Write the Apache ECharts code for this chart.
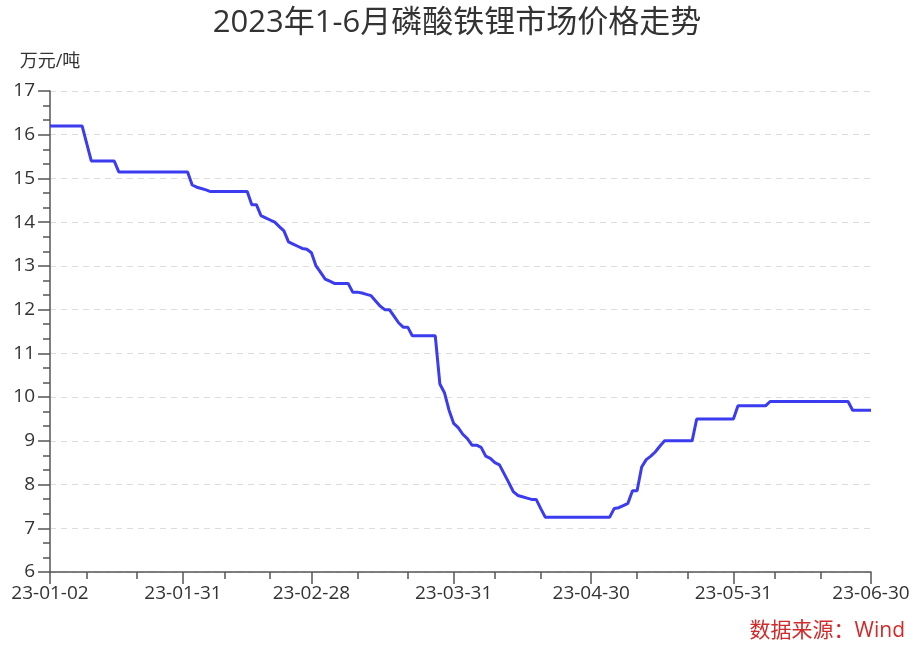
<!DOCTYPE html>
<html>
<head>
<meta charset="utf-8">
<script src="https://cdn.jsdelivr.net/npm/echarts@6/dist/echarts.min.js"></script>
<style>
html,body{margin:0;padding:0;background:#fff;}
#chart{width:914px;height:646px;}
</style>
</head>
<body>
<div id="chart"></div>
<script>
// Daily series, one value per calendar day from 2023-01-02 to 2023-06-30 (万元/吨)
var startDate = '2023-01-02';
var dayCount = 180;
var priceValues = [
  16.2,16.2,16.2,16.2,16.2,16.2,16.2,16.2,15.8,15.4,
  15.4,15.4,15.4,15.4,15.4,15.15,15.15,15.15,15.15,15.15,
  15.15,15.15,15.15,15.15,15.15,15.15,15.15,15.15,15.15,15.15,
  15.15,14.85,14.8,14.77,14.74,14.7,14.7,14.7,14.7,14.7,
  14.7,14.7,14.7,14.7,14.4,14.4,14.15,14.1,14.05,14.0,
  13.9,13.8,13.55,13.5,13.45,13.4,13.38,13.3,13.0,12.85,
  12.7,12.65,12.6,12.6,12.6,12.6,12.4,12.4,12.38,12.35,
  12.32,12.2,12.08,12.0,12.0,11.85,11.7,11.6,11.6,11.4,
  11.4,11.4,11.4,11.4,11.4,10.3,10.1,9.7,9.4,9.3,
  9.15,9.05,8.9,8.9,8.85,8.65,8.6,8.5,8.45,8.25,
  8.05,7.84,7.75,7.72,7.69,7.66,7.66,7.45,7.25,7.25,
  7.25,7.25,7.25,7.25,7.25,7.25,7.25,7.25,7.25,7.25,
  7.25,7.25,7.25,7.45,7.47,7.52,7.57,7.86,7.86,8.4,
  8.57,8.65,8.75,8.88,9.0,9.0,9.0,9.0,9.0,9.0,
  9.0,9.5,9.5,9.5,9.5,9.5,9.5,9.5,9.5,9.5,
  9.8,9.8,9.8,9.8,9.8,9.8,9.8,9.9,9.9,9.9,
  9.9,9.9,9.9,9.9,9.9,9.9,9.9,9.9,9.9,9.9,
  9.9,9.9,9.9,9.9,9.9,9.7,9.7,9.7,9.7,9.7
];
var labelDates = ['23-01-02','23-01-31','23-02-28','23-03-31','23-04-30','23-05-31','23-06-30'];
var minorTickDates = ['23-01-10','23-01-21','23-02-09','23-02-19','23-03-10','23-03-21','23-04-09','23-04-19','23-05-10','23-05-21','23-06-09','23-06-19'];
var yTickLabels = ['6','7','8','9','10','11','12','13','14','15','16','17'];
var titleText = '2023年1-6月磷酸铁锂市场价格走势';
var unitText = '万元/吨';
var sourceText = '数据来源：Wind';

function pad(n){return (n<10?'0':'')+n;}
var categories = [];
var d0 = new Date(startDate + 'T00:00:00Z');
for (var i = 0; i < dayCount; i++) {
  var d = new Date(d0.getTime() + i * 86400000);
  categories.push(String(d.getUTCFullYear()).slice(2) + '-' + pad(d.getUTCMonth()+1) + '-' + pad(d.getUTCDate()));
}
var labelIdx = labelDates.map(function(s){return categories.indexOf(s);});
var minorIdx = minorTickDates.map(function(s){return categories.indexOf(s);});

var FONT = '"Open Sans","Noto Sans CJK SC",sans-serif';
var AXIS_COLOR = '#555';

var chart = echarts.init(document.getElementById('chart'), null, {renderer:'canvas'});
chart.setOption({
  animation: false,
  backgroundColor: '#fff',
  textStyle: {fontFamily: FONT},
  title: {
    text: titleText, left: 'center', top: 3,
    textStyle: {fontFamily: FONT, fontSize: 31, fontWeight: 'normal', color: '#333'}
  },
  grid: {left: 50, right: 43, top: 91, bottom: 74, containLabel: false},
  xAxis: [{
    type: 'category', data: categories, boundaryGap: false, position: 'bottom',
    axisLine: {show: true, lineStyle: {color: AXIS_COLOR, width: 1.5}},
    axisTick: {show: true, length: 12, lineStyle: {color: AXIS_COLOR, width: 1.5},
      interval: function(idx){return labelIdx.indexOf(idx) >= 0;}},
    axisLabel: {show: true, fontSize: 19, color: '#333', margin: 12, fontFamily: FONT,
      showMinLabel: true, showMaxLabel: true, hideOverlap: false,
      interval: function(idx){return labelIdx.indexOf(idx) >= 0;}},
    splitLine: {show: false}
  },{
    type: 'category', data: categories, boundaryGap: false, position: 'bottom', offset: 0,
    axisLine: {show: false},
    axisTick: {show: true, length: 7, lineStyle: {color: AXIS_COLOR, width: 1.5},
      interval: function(idx){return minorIdx.indexOf(idx) >= 0;}},
    axisLabel: {show: false},
    splitLine: {show: false}
  }],
  yAxis: {
    type: 'value', min: 6, max: 17, interval: 1,
    name: unitText, nameLocation: 'end', nameGap: 20,
    nameTextStyle: {fontSize: 18, color: '#333', fontFamily: FONT, align: 'center'},
    axisLine: {show: true, lineStyle: {color: AXIS_COLOR, width: 1.5}},
    axisTick: {show: true, length: 12, lineStyle: {color: AXIS_COLOR, width: 1.5}},
    minorTick: {show: true, splitNumber: 3, length: 7, lineStyle: {color: AXIS_COLOR, width: 1.5}},
    axisLabel: {fontSize: 19, color: '#333', margin: 15, fontFamily: FONT,
      formatter: function(v){ var s = String(v); return yTickLabels.indexOf(s) >= 0 ? s : ''; }},
    splitLine: {show: true, lineStyle: {color: '#ddd', type: [6, 5], width: 1.2}},
    minorSplitLine: {show: false}
  },
  graphic: [{
    type: 'text', right: 9, bottom: 4,
    style: {text: sourceText, fill: '#d02a2a', font: '21px ' + FONT}
  }],
  series: [{
    type: 'line', data: priceValues, xAxisIndex: 0, yAxisIndex: 0,
    showSymbol: false, symbol: 'none', smooth: false,
    lineStyle: {color: '#3b3bef', width: 3}
  }]
});
</script>
</body>
</html>
